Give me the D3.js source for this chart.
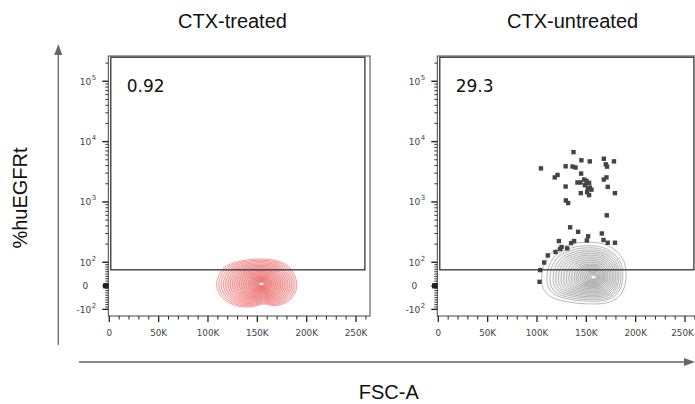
<!DOCTYPE html>
<html>
<head>
<meta charset="utf-8">
<script src="https://cdn.jsdelivr.net/npm/d3@7"></script>
<style>
  body { margin: 0; background: #fff; }
  svg { display: block; }
</style>
</head>
<body>
<div id="chart"></div>
<script>
(function(){
  'use strict';

  // data
  var panelTitles = ['CTX-treated', 'CTX-untreated'];
  var gatePercents = ['0.92', '29.3'];

  var xTicks = [0, 50000, 100000, 150000, 200000, 250000];
  var xTickLabels = ['0', '50K', '100K', '150K', '200K', '250K'];
  var yTicks = [-100, 0, 100, 1000, 10000, 100000];
  var yTickBase = ['-10', '0', '10', '10', '10', '10'];
  var yTickSup = ['2', '', '2', '3', '4', '5'];

  // gate rectangle: FSC-A range, %huEGFRt range
  var gateX = [1500, 259000];
  var gateY = [68, 250000];

  // contour outlines (outermost level) + density peak, [FSC-A, %huEGFRt]
  var treatedPeak = [154400, 8];
  var treatedOutline = [
    [108800, 3.5], [110700, 42], [115200, 74], [123300, 93], [135500, 107],
    [148700, 113], [160800, 112], [172000, 103], [181100, 84], [187200, 50],
    [189900, 12], [188700, -26], [184100, -56], [177000, -75], [166900, -84],
    [156700, -77], [146600, -87], [132400, -88], [120300, -69], [112200, -39]
  ];
  var untreatedPeak = [157800, 36];
  var untreatedOutline = [
    [104800, 17.5], [106100, 76], [111500, 124], [118300, 160], [126700, 181],
    [136500, 205], [146900, 214], [157800, 214], [167200, 201], [177000, 169],
    [184100, 132], [188700, 97], [190200, 53], [189700, 12], [187500, -18],
    [183100, -45], [177300, -63], [166900, -75], [157100, -77], [143600, -75],
    [130100, -67], [119300, -56], [111500, -39], [106600, -13]
  ];
  var treatedLevels = [1, .95, .9, .85, .8, .75, .7, .65, .6, .55, .5, .45, .4, .35, .3, .26, .22, .18, .14, .1, .06];
  var untreatedLevels = [1, .9, .84, .78, .73, .68, .63, .58, .53, .48, .43, .38, .34, .3, .26, .22, .18, .14, .1, .06];

  // outlier events drawn as dots (CTX-untreated)
  var untreatedEvents = [
    [104000, 3600], [137000, 6700], [129000, 3900], [136000, 3860], [139000, 3720],
    [145000, 4900], [153500, 4700], [167700, 5200], [178000, 4700], [169700, 4200],
    [171000, 3850], [118000, 2550], [120800, 2800], [144700, 2950], [141000, 2100],
    [144000, 2100], [147800, 2350], [150200, 2230], [152800, 2070], [148500, 1900],
    [153500, 1730], [151500, 1690], [155200, 1600], [144400, 1400], [150800, 1450],
    [152800, 1300], [167700, 2350], [170400, 2550], [171700, 1780], [179000, 1400],
    [129000, 1800], [129200, 1060], [131600, 960], [170700, 600], [133600, 380],
    [141700, 320], [151800, 270], [165700, 300], [122200, 225], [137600, 225],
    [134600, 208], [150500, 230], [167400, 234], [171700, 211], [179000, 211],
    [124900, 179], [123500, 166], [118800, 148], [130600, 170], [111000, 130],
    [107300, 99], [103200, 67], [102600, 17]
  ];

  var panels = [
    {outline: treatedOutline, peak: treatedPeak, levels: treatedLevels, color: '#ee5c5c', fill: 0.035, events: []},
    {outline: untreatedOutline, peak: untreatedPeak, levels: untreatedLevels, color: '#8a8a8a', fill: 0.02, events: untreatedEvents}
  ];

  var W = 695, H = 404;
  var svg = d3.select('#chart').append('svg')
    .attr('width', W)
    .attr('height', H)
    .style('font-family', 'DejaVu Sans, sans-serif');

  // biexponential-ish display transform for the y channel
  function tr(v) {
    var a = 0.39, m = Math.abs(v);
    if (m <= 100) return v * a / 100;
    return (v < 0 ? -1 : 1) * (a + Math.log10(m / 100));
  }
  var yLin = d3.scaleLinear().domain([-0.5, tr(262144)]).range([316, 56]);
  function y(v) { return yLin(tr(v)); }

  var yMinor = [], k;
  [1, 10].forEach(function(d) {
    for (k = 1; k <= 9; k++) { yMinor.push(k * d); yMinor.push(-k * d); }
  });
  [100, 1000, 10000].forEach(function(d) {
    for (k = 2; k <= 9; k++) yMinor.push(k * d);
  });
  yMinor.push(200000);
  var xMinor = d3.range(0, 262144, 10000);

  var line = d3.line().curve(d3.curveCatmullRomClosed.alpha(0.5));

  panels.forEach(function(p, i) {
    var left = 109.3 + i * 329,
        axisX = left - 1,
        g = svg.append('g');

    var x = d3.scaleLinear().domain([0, 262144]).range([left, left + 258.7]);

    // frame
    g.append('rect')
      .attr('x', axisX)
      .attr('y', 56)
      .attr('width', 261.7)
      .attr('height', 260)
      .attr('fill', 'none')
      .attr('stroke', '#444')
      .attr('stroke-width', 1);

    // contours: outline scaled toward the peak
    var px = x(p.peak[0]), py = y(p.peak[1]);
    var outlinePx = p.outline.map(function(d) { return [x(d[0]), y(d[1])]; });
    g.selectAll('.contour')
      .data(p.levels)
      .enter()
      .append('path')
      .attr('class', 'contour')
      .attr('d', function(s) {
        return line(outlinePx.map(function(q) {
          return [px + s * (q[0] - px), py + s * (q[1] - py)];
        }));
      })
      .attr('fill', function(s, j) { return j === p.levels.length - 1 ? '#fff' : p.color; })
      .attr('fill-opacity', function(s, j) { return j === p.levels.length - 1 ? 1 : p.fill; })
      .attr('stroke', p.color)
      .attr('stroke-width', 0.75)
      .attr('stroke-opacity', 0.8);

    // events
    g.selectAll('.event')
      .data(p.events)
      .enter()
      .append('rect')
      .attr('class', 'event')
      .attr('x', function(d) { return x(d[0]) - 2.2; })
      .attr('y', function(d) { return y(d[1]) - 2.2; })
      .attr('width', 4.4)
      .attr('height', 4.4)
      .attr('fill', '#444');

    // gate
    g.append('rect')
      .attr('x', x(gateX[0]))
      .attr('y', y(gateY[1]))
      .attr('width', x(gateX[1]) - x(gateX[0]))
      .attr('height', y(gateY[0]) - y(gateY[1]))
      .attr('fill', 'none')
      .attr('stroke', '#333')
      .attr('stroke-width', 1.3);

    g.append('text')
      .attr('x', left + 17.4)
      .attr('y', 92.3)
      .attr('font-size', 17)
      .attr('fill', '#111')
      .text(gatePercents[i]);

    // x axis ticks
    g.selectAll('.xmin')
      .data(xMinor)
      .enter()
      .append('line')
      .attr('x1', function(d) { return x(d); })
      .attr('x2', function(d) { return x(d); })
      .attr('y1', 316)
      .attr('y2', function(d) { return d % 50000 === 0 ? 322 : 319.5; })
      .attr('stroke', '#222')
      .attr('stroke-width', function(d) { return d % 50000 === 0 ? 1.3 : 1; });

    g.selectAll('.xlab')
      .data(xTicks)
      .enter()
      .append('text')
      .attr('x', function(d) { return x(d); })
      .attr('y', 336)
      .attr('text-anchor', 'middle')
      .attr('font-size', 8.8)
      .attr('fill', '#444')
      .text(function(d, j) { return xTickLabels[j]; })
      .each(function() {
        var b = this.getBBox();
        if (b.x + b.width > W - 1) d3.select(this).attr('x', +d3.select(this).attr('x') - (b.x + b.width - W + 1));
      });

    // y axis ticks
    g.selectAll('.ymin')
      .data(yMinor)
      .enter()
      .append('line')
      .attr('x1', function(d) { return Math.abs(d) < 10 ? axisX - 5 : axisX - 3; })
      .attr('x2', axisX)
      .attr('y1', function(d) { return y(d); })
      .attr('y2', function(d) { return y(d); })
      .attr('stroke', '#222')
      .attr('stroke-width', 0.9);

    g.selectAll('.ymaj')
      .data(yTicks)
      .enter()
      .append('line')
      .attr('x1', axisX - 6)
      .attr('x2', axisX)
      .attr('y1', function(d) { return y(d); })
      .attr('y2', function(d) { return y(d); })
      .attr('stroke', '#222')
      .attr('stroke-width', 1.4);

    var ylab = g.selectAll('.ylab')
      .data(yTicks)
      .enter()
      .append('g');
    ylab.append('text')
      .attr('x', function(d, j) { return yTickSup[j] ? axisX - 17 : axisX - 20; })
      .attr('y', function(d) { return y(d) + 3.3; })
      .attr('text-anchor', 'end')
      .attr('font-size', 9)
      .attr('fill', '#444')
      .text(function(d, j) { return yTickBase[j]; });
    ylab.append('text')
      .attr('x', axisX - 16.6)
      .attr('y', function(d) { return y(d) - 1.5; })
      .attr('font-size', 7)
      .attr('fill', '#444')
      .text(function(d, j) { return yTickSup[j]; });

    // title
    svg.append('text')
      .attr('x', left + 68.7)
      .attr('y', 28.3)
      .attr('font-family', 'Liberation Sans, Arial, sans-serif')
      .attr('font-size', 20)
      .attr('fill', '#111')
      .text(panelTitles[i]);
  });

  // shared axis arrows
  var arrowColor = '#666';
  svg.append('line')
    .attr('x1', 58.3).attr('x2', 58.3)
    .attr('y1', 345).attr('y2', 52)
    .attr('stroke', arrowColor).attr('stroke-width', 1.3);
  svg.append('path')
    .attr('d', 'M58.3,44L54.3,55L62.3,55Z')
    .attr('fill', arrowColor);
  svg.append('line')
    .attr('x1', 79).attr('x2', 686)
    .attr('y1', 362).attr('y2', 362)
    .attr('stroke', arrowColor).attr('stroke-width', 1.3);
  svg.append('path')
    .attr('d', 'M695,362L684,358L684,366Z')
    .attr('fill', arrowColor);

  svg.append('text')
    .attr('x', 388.8)
    .attr('y', 399.3)
    .attr('text-anchor', 'middle')
    .attr('font-family', 'Liberation Sans, Arial, sans-serif')
    .attr('font-size', 20)
    .attr('fill', '#111')
    .text('FSC-A');

  svg.append('text')
    .attr('transform', 'translate(26.7,198) rotate(-90)')
    .attr('text-anchor', 'middle')
    .attr('font-family', 'Liberation Sans, Arial, sans-serif')
    .attr('font-size', 20)
    .attr('fill', '#111')
    .text('%huEGFRt');

}());
</script>
</body>
</html>
